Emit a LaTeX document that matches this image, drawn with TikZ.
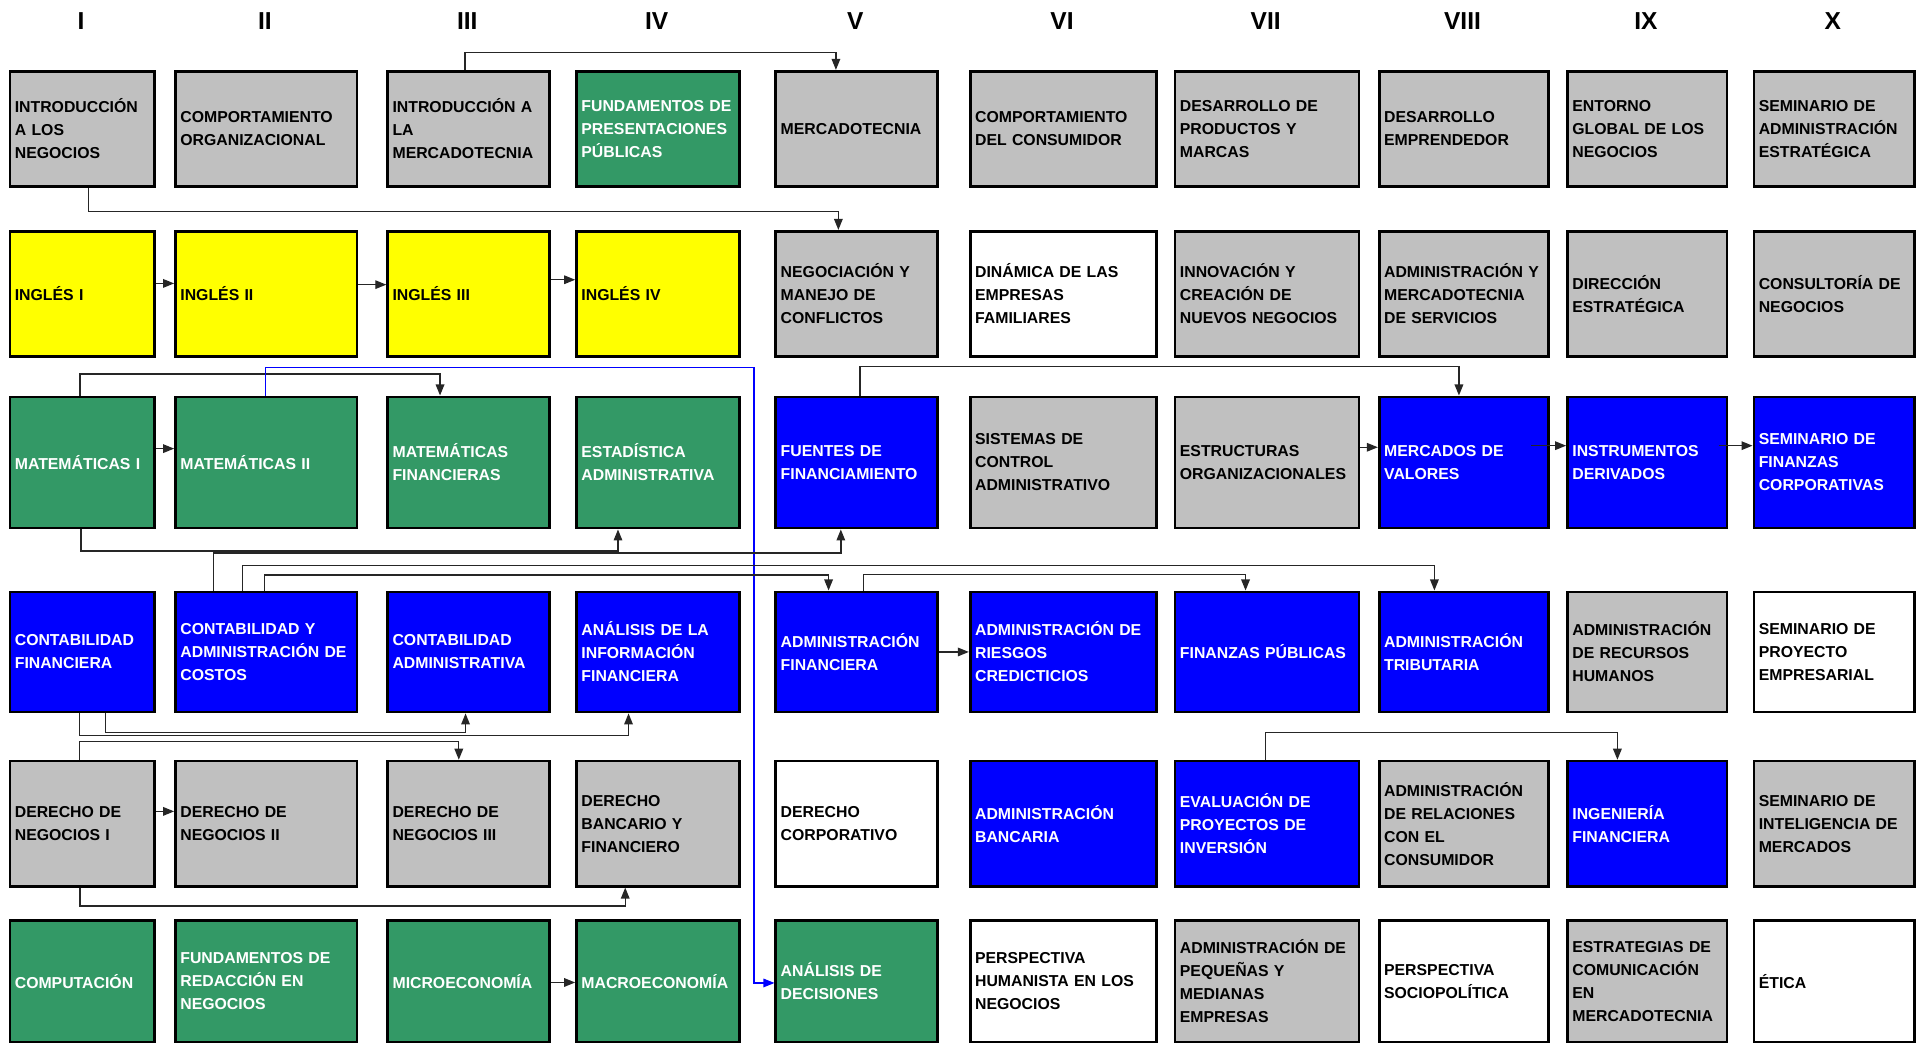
\documentclass[tikz,border=0pt]{standalone}
\usepackage{fontspec}
\setmainfont{Liberation Sans}
\usetikzlibrary{arrows.meta}
\definecolor{cgray}{HTML}{C0C0C0}
\definecolor{cgreen}{HTML}{339966}
\definecolor{cblue}{HTML}{0000FF}
\definecolor{cyel}{HTML}{FFFF00}
\newcommand\cxa[1]{\ifcase#1\or7\or142\or315\or469\or631.5\or790\or957\or1123.5\or1277\or1429\fi}
\newcommand\cxb[1]{\ifcase#1\or125\or290\or447\or602\or763.5\or942\or1107\or1261.5\or1407\or1560\fi}
\newcommand\rya[1]{\ifcase#1\or57\or187.5\or322.5\or481.5\or619.5\or749.5\fi}
\newcommand\ryb[1]{\ifcase#1\or151\or289.5\or429.5\or579.5\or721.5\or848.5\fi}
\newcommand\mycourse[5]{%
  \edef\xa{\cxa{#2}}\edef\xb{\cxb{#2}}\edef\ya{\rya{#3}}\edef\yb{\ryb{#3}}%
  \pgfmathsetmacro\ww{\xb-\xa}\pgfmathsetmacro\hh{\yb-\ya}\pgfmathsetmacro\tw{\ww-8}%
  \node[subjbox,#4,minimum width=\ww pt,minimum height=\hh pt,text width=\tw pt] (#1) at (\xa,\ya) {#5};}
\tikzset{
  subjbox/.style={draw=black, line width=2.2pt, anchor=north west, inner xsep=4pt, inner ysep=0pt,
    align=left, font=\fontsize{12.9}{18.8}\selectfont\bfseries},
  gry/.style={fill=cgray, text=black},
  yel/.style={fill=cyel, text=black},
  grn/.style={fill=cgreen, text=white},
  blu/.style={fill=cblue, text=white},
  wht/.style={fill=white, text=black},
  hdr/.style={font=\fontsize{20}{24}\selectfont\bfseries, inner sep=0pt},
  conn/.style={draw=black!85, line width=1.1pt, -{Triangle[length=9pt,width=7pt]}},
  bconn/.style={draw=cblue, line width=1pt, -{Triangle[length=9pt,width=7pt]}}
}
\begin{document}
\begin{tikzpicture}[x=1pt,y=-1pt]
\useasboundingbox (0,0) rectangle (1568,850.4);
% headers
\node[hdr] (h1) at (66,17) {I};
\node[hdr] (h2) at (216,17) {II};
\node[hdr] (h3) at (381,17) {III};
\node[hdr] (h4) at (535.5,17) {IV};
\node[hdr] (h5) at (697.5,17) {V};
\node[hdr] (h6) at (866,17) {VI};
\node[hdr] (h7) at (1032,17) {VII};
\node[hdr] (h8) at (1192.5,17) {VIII};
\node[hdr] (h9) at (1342,17) {IX};
\node[hdr] (h10) at (1494.5,17) {X};
% row 1
\mycourse{c1r1}{1}{1}{gry}{INTRODUCCIÓN\\A LOS\\NEGOCIOS}
\mycourse{c2r1}{2}{1}{gry}{COMPORTAMIENTO\\ORGANIZACIONAL}
\mycourse{c3r1}{3}{1}{gry}{INTRODUCCIÓN A\\LA\\MERCADOTECNIA}
\mycourse{c4r1}{4}{1}{grn}{FUNDAMENTOS~DE\\PRESENTACIONES\\PÚBLICAS}
\mycourse{c5r1}{5}{1}{gry}{MERCADOTECNIA}
\mycourse{c6r1}{6}{1}{gry}{COMPORTAMIENTO\\DEL CONSUMIDOR}
\mycourse{c7r1}{7}{1}{gry}{DESARROLLO DE\\PRODUCTOS Y\\MARCAS}
\mycourse{c8r1}{8}{1}{gry}{DESARROLLO\\EMPRENDEDOR}
\mycourse{c9r1}{9}{1}{gry}{ENTORNO\\GLOBAL DE LOS\\NEGOCIOS}
\mycourse{c10r1}{10}{1}{gry}{SEMINARIO DE\\ADMINISTRACIÓN\\ESTRATÉGICA}
% row 2
\mycourse{c1r2}{1}{2}{yel}{INGLÉS I}
\mycourse{c2r2}{2}{2}{yel}{INGLÉS II}
\mycourse{c3r2}{3}{2}{yel}{INGLÉS III}
\mycourse{c4r2}{4}{2}{yel}{INGLÉS IV}
\mycourse{c5r2}{5}{2}{gry}{NEGOCIACIÓN~Y\\MANEJO DE\\CONFLICTOS}
\mycourse{c6r2}{6}{2}{wht}{DINÁMICA DE LAS\\EMPRESAS\\FAMILIARES}
\mycourse{c7r2}{7}{2}{gry}{INNOVACIÓN Y\\CREACIÓN DE\\NUEVOS~NEGOCIOS}
\mycourse{c8r2}{8}{2}{gry}{ADMINISTRACIÓN~Y\\MERCADOTECNIA\\DE SERVICIOS}
\mycourse{c9r2}{9}{2}{gry}{DIRECCIÓN\\ESTRATÉGICA}
\mycourse{c10r2}{10}{2}{gry}{CONSULTORÍA~DE\\NEGOCIOS}
% row 3
\mycourse{c1r3}{1}{3}{grn}{MATEMÁTICAS~I}
\mycourse{c2r3}{2}{3}{grn}{MATEMÁTICAS II}
\mycourse{c3r3}{3}{3}{grn}{MATEMÁTICAS\\FINANCIERAS}
\mycourse{c4r3}{4}{3}{grn}{ESTADÍSTICA\\ADMINISTRATIVA}
\mycourse{c5r3}{5}{3}{blu}{FUENTES DE\\FINANCIAMIENTO}
\mycourse{c6r3}{6}{3}{gry}{SISTEMAS DE\\CONTROL\\ADMINISTRATIVO}
\mycourse{c7r3}{7}{3}{gry}{ESTRUCTURAS\\ORGANIZACIONALES}
\mycourse{c8r3}{8}{3}{blu}{MERCADOS DE\\VALORES}
\mycourse{c9r3}{9}{3}{blu}{INSTRUMENTOS\\DERIVADOS}
\mycourse{c10r3}{10}{3}{blu}{SEMINARIO DE\\FINANZAS\\CORPORATIVAS}
% row 4
\mycourse{c1r4}{1}{4}{blu}{CONTABILIDAD\\FINANCIERA}
\mycourse{c2r4}{2}{4}{blu}{CONTABILIDAD Y\\ADMINISTRACIÓN~DE\\COSTOS}
\mycourse{c3r4}{3}{4}{blu}{CONTABILIDAD\\ADMINISTRATIVA}
\mycourse{c4r4}{4}{4}{blu}{ANÁLISIS DE LA\\INFORMACIÓN\\FINANCIERA}
\mycourse{c5r4}{5}{4}{blu}{ADMINISTRACIÓN\\FINANCIERA}
\mycourse{c6r4}{6}{4}{blu}{ADMINISTRACIÓN~DE\\RIESGOS\\CREDICTICIOS}
\mycourse{c7r4}{7}{4}{blu}{FINANZAS~PÚBLICAS}
\mycourse{c8r4}{8}{4}{blu}{ADMINISTRACIÓN\\TRIBUTARIA}
\mycourse{c9r4}{9}{4}{gry}{ADMINISTRACIÓN\\DE RECURSOS\\HUMANOS}
\mycourse{c10r4}{10}{4}{wht}{SEMINARIO DE\\PROYECTO\\EMPRESARIAL}
% row 5
\mycourse{c1r5}{1}{5}{gry}{DERECHO DE\\NEGOCIOS I}
\mycourse{c2r5}{2}{5}{gry}{DERECHO DE\\NEGOCIOS II}
\mycourse{c3r5}{3}{5}{gry}{DERECHO DE\\NEGOCIOS III}
\mycourse{c4r5}{4}{5}{gry}{DERECHO\\BANCARIO Y\\FINANCIERO}
\mycourse{c5r5}{5}{5}{wht}{DERECHO\\CORPORATIVO}
\mycourse{c6r5}{6}{5}{blu}{ADMINISTRACIÓN\\BANCARIA}
\mycourse{c7r5}{7}{5}{blu}{EVALUACIÓN DE\\PROYECTOS DE\\INVERSIÓN}
\mycourse{c8r5}{8}{5}{gry}{ADMINISTRACIÓN\\DE RELACIONES\\CON EL\\CONSUMIDOR}
\mycourse{c9r5}{9}{5}{blu}{INGENIERÍA\\FINANCIERA}
\mycourse{c10r5}{10}{5}{gry}{SEMINARIO DE\\INTELIGENCIA~DE\\MERCADOS}
% row 6
\mycourse{c1r6}{1}{6}{grn}{COMPUTACIÓN}
\mycourse{c2r6}{2}{6}{grn}{FUNDAMENTOS DE\\REDACCIÓN EN\\NEGOCIOS}
\mycourse{c3r6}{3}{6}{grn}{MICROECONOMÍA}
\mycourse{c4r6}{4}{6}{grn}{MACROECONOMÍA}
\mycourse{c5r6}{5}{6}{grn}{ANÁLISIS DE\\DECISIONES}
\mycourse{c6r6}{6}{6}{wht}{PERSPECTIVA\\HUMANISTA~EN~LOS\\NEGOCIOS}
\mycourse{c7r6}{7}{6}{gry}{ADMINISTRACIÓN~DE\\PEQUEÑAS Y\\MEDIANAS\\EMPRESAS}
\mycourse{c8r6}{8}{6}{wht}{PERSPECTIVA\\SOCIOPOLÍTICA}
\mycourse{c9r6}{9}{6}{gry}{ESTRATEGIAS~DE\\COMUNICACIÓN\\EN\\MERCADOTECNIA}
\mycourse{c10r6}{10}{6}{wht}{ÉTICA}
% connectors
\draw[conn] ([xshift=-3pt]c3r1.north) -- ++(0,-14) -| ([xshift=-17pt]c5r1.north);
\draw[conn] ([xshift=5pt]c1r1.south) -- ++(0,19.5) -| ([xshift=-15pt]c5r2.north);
\draw[conn] ([yshift=8.5pt]c1r2.east) -- ([yshift=8.5pt]c2r2.west);
\draw[conn] ([yshift=7.5pt]c2r2.east) -- ([yshift=7.5pt]c3r2.west);
\draw[conn] ([yshift=11.5pt]c3r2.east) -- ([yshift=11.5pt]c4r2.west);
\draw[conn] ([xshift=-2pt]c1r3.north) -- ++(0,-17.5) -| ([xshift=-23.3pt]c3r3.north);
\draw[conn] ([yshift=11.3pt]c1r3.east) -- ([yshift=11.3pt]c2r3.west);
\coordinate (bturn) at (614.8,299.5);
\draw[bconn] ([xshift=-0.5pt]c2r3.north) |- (bturn) |- ([yshift=-1.4pt]c5r6.west);
\draw[conn] ([xshift=-1pt]c1r3.south) -- ++(0,17.5) -| ([xshift=-32.7pt]c4r3.south);
\draw[conn] ([xshift=-43.2pt]c2r4.north) -- ++(0,-30.5) -| ([xshift=-13pt]c5r3.south);
\draw[conn] ([xshift=-19.6pt]c2r4.north) -- ++(0,-20.3) -| ([xshift=-24pt]c8r4.north);
\draw[conn] ([xshift=-1.4pt]c2r4.north) -- ++(0,-12.7) -| ([xshift=-23pt]c5r4.north);
\draw[conn] ([xshift=5.5pt]c5r4.north) -- ++(0,-13) -| ([xshift=-17.5pt]c7r4.north);
\draw[conn] (c5r4.east) -- (c6r4.west);
\draw[conn] ([xshift=2.5pt]c5r3.north) -- ++(0,-23.5) -| ([xshift=-4pt]c8r3.north);
\draw[conn] ([yshift=12.4pt]c7r3.east) -- ([yshift=12.4pt]c8r3.west);
\draw[conn] ([xshift=-15.3pt,yshift=13.7pt]c8r3.east) -- ([yshift=13.7pt]c9r3.west);
\draw[conn] ([xshift=-7.8pt,yshift=13.7pt]c9r3.east) -- ([yshift=13.7pt]c10r3.west);
\draw[conn] ([xshift=-2.2pt]c1r4.south) -- ++(0,17.9) -| ([xshift=-24.1pt]c4r4.south);
\draw[conn] ([xshift=19pt]c1r4.south) -- ++(0,15.7) -| ([xshift=-2.5pt]c3r4.south);
\draw[conn] ([xshift=-2.2pt]c1r5.north) -- ++(0,-14.8) -| ([xshift=-8pt]c3r5.north);
\draw[conn] ([yshift=10pt]c1r5.east) -- ([yshift=10pt]c2r5.west);
\draw[conn] ([xshift=-2pt]c1r5.south) -- ++(0,15.1) -| ([xshift=-26.8pt]c4r5.south);
\draw[conn] ([yshift=-1pt]c3r6.east) -- ([yshift=-1pt]c4r6.west);
\draw[conn] ([xshift=-1pt]c7r5.north) -- ++(0,-22.1) -| ([xshift=-24.3pt]c9r5.north);
\end{tikzpicture}
\end{document}
